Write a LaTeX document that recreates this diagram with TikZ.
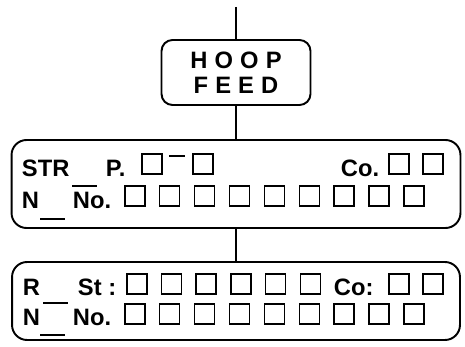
\documentclass[tikz,border=0pt]{standalone}
\usepackage{fontspec}
\setmainfont{Liberation Sans}
\newfontfamily\hoopfont[LetterSpace=30]{Liberation Sans}
\usetikzlibrary{positioning}

\begin{document}
\begin{tikzpicture}[x=0.02cm,y=-0.02cm,line width=1.1pt,
  panel/.style={draw,rounded corners=0.3cm,inner sep=0pt},
  lbl/.style={anchor=base west,inner sep=0pt,font=\fontsize{13.5}{15}\selectfont\bfseries},
  cell/.style={draw,line width=0.9pt,minimum size=0.4cm,inner sep=0pt,anchor=south west}]
\useasboundingbox (0,0) rectangle (465,347);
\coordinate (top) at (236,7);
\node[panel,rounded corners=0.22cm,minimum width=2.98cm,minimum height=1.3cm,align=center,font=\hoopfont\bfseries\fontsize{13.5}{14.2}\selectfont] (hoop) at (236,72.5) {HOOP\\FEED};
\node[panel,minimum width=8.98cm,minimum height=1.76cm] (strbox) at (236,184) {};
\node[panel,minimum width=8.96cm,minimum height=1.56cm] (rbox) at (236,301) {};
\draw (top) -- (hoop);
\draw (hoop) -- (strbox);
\draw (strbox) -- (rbox);
% upper panel
\node[lbl] (str) at (21,176) {STR};
\node[lbl] (p) at (105,176) {P.};
\node[cell] (p1) at (141,175) {};
\node[cell] (p2) at (192,175) {};
\draw (169,156) -- (185,156);
\node[lbl] (co) at (340,176) {Co.};
\node[cell] (c1) at (388,175) {};
\node[cell] (c2) at (422,175) {};
\node[lbl] (n) at (21,208) {N};
\draw (40,219) -- (65,219);
\node[lbl] (no) at (72,208) {No.};
\draw (72,186) -- (97,186);
\foreach \i in {0,...,8}
  \node[cell] (a\i) at (124+34.9*\i,207) {};
% lower panel
\node[lbl] (r) at (22,295) {R};
\node[lbl] (st) at (77,295) {St :};
\foreach \i in {0,...,5}
  \node[cell] (s\i) at (126+34.7*\i,295) {};
\node[lbl] (rco) at (333,295) {Co:};
\node[cell] (d1) at (388,295) {};
\node[cell] (d2) at (422,295) {};
\node[lbl] (rn) at (22,325) {N};
\draw (43,303) -- (68,303);
\draw (40,335) -- (65,335);
\node[lbl] (rno) at (72,325) {No.};
\foreach \i in {0,...,8}
  \node[cell] (b\i) at (124+34.9*\i,325) {};
\end{tikzpicture}
\end{document}
